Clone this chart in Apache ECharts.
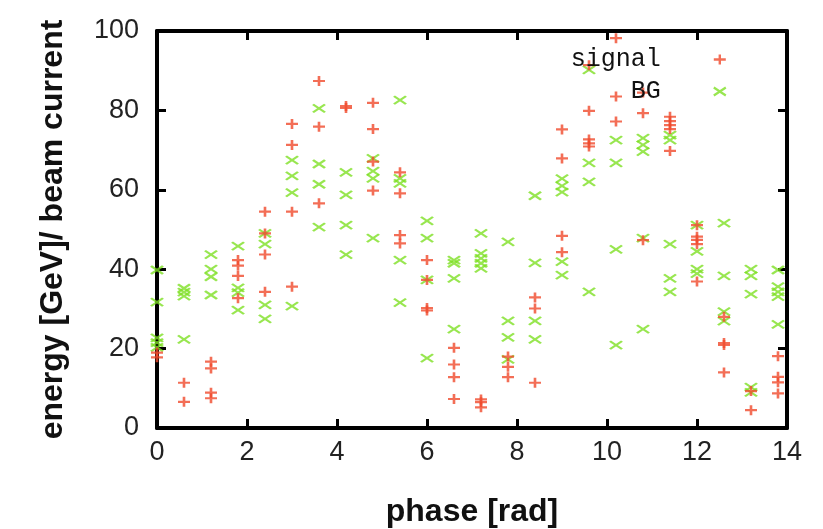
<!DOCTYPE html>
<html>
<head>
<meta charset="utf-8">
<script src="https://cdn.jsdelivr.net/npm/echarts@6/dist/echarts.min.js"></script>
<style>
  html, body { margin: 0; padding: 0; background: #ffffff; }
  #chart { width: 823px; height: 529px; }
</style>
</head>
<body>
<div id="chart"></div>
<script>
// Phase positions of the scan (rad)
const phase = [0, 0.6, 1.2, 1.8, 2.4, 3.0, 3.6, 4.2, 4.8, 5.4, 6.0, 6.6,
               7.2, 7.8, 8.4, 9.0, 9.6, 10.2, 10.8, 11.4, 12.0, 12.6, 13.2, 13.8];

// Signal energy per beam current, one list per phase position
const signalEnergy = [
  [19.0, 17.8],
  [11.4, 6.6],
  [16.7, 15.0, 8.9, 7.5],
  [42.3, 40.9, 38.3, 32.7],
  [54.5, 49.0, 43.7, 34.3],
  [76.6, 71.3, 54.5, 35.6],
  [87.4, 75.9, 56.6],
  [81.1, 80.6],
  [81.9, 75.3, 67.1, 59.8],
  [64.4, 59.1, 48.6, 46.5],
  [42.3, 37.3, 30.2, 29.6],
  [20.2, 16.0, 12.8, 7.3],
  [7.2, 6.5, 5.2],
  [18.0, 15.4, 12.8],
  [32.9, 30.1, 11.4],
  [75.2, 67.9, 48.4, 44.3],
  [91.4, 79.9, 72.7, 71.7, 70.9],
  [98.2, 83.5, 77.2],
  [84.5, 79.3, 47.3],
  [78.4, 77.3, 76.3, 75.3, 69.8],
  [51.1, 48.2, 47.4, 46.3, 36.9],
  [28.0, 21.4, 20.9, 14.0],
  [9.3, 4.5],
  [18.1, 12.9, 11.5, 8.7]
];

// Background energy per beam current, one list per phase position
const bgEnergy = [
  [39.8, 31.7, 22.7, 21.5, 20.3],
  [35.2, 34.2, 33.2, 22.3],
  [43.7, 40.0, 38.1, 33.5],
  [45.8, 35.3, 34.1, 29.7],
  [49.0, 46.3, 31.0, 27.5],
  [67.5, 63.5, 59.3, 30.7],
  [80.5, 66.5, 61.4, 50.6],
  [64.4, 58.7, 51.1, 43.7],
  [67.9, 64.7, 62.9, 47.8],
  [82.6, 62.9, 61.6, 42.3, 31.6],
  [52.2, 47.8, 37.3, 17.6],
  [42.3, 41.5, 37.7, 24.9],
  [49.0, 44.0, 42.7, 41.5, 40.2],
  [46.9, 27.0, 22.8, 17.3],
  [58.5, 41.6, 27.0, 22.3],
  [62.8, 61.0, 59.4, 41.9, 38.5],
  [90.2, 66.8, 62.0, 34.3],
  [72.5, 66.8, 45.0, 20.9],
  [73.0, 71.3, 69.6, 47.8, 24.9],
  [73.8, 72.5, 46.3, 37.7, 34.3],
  [51.1, 44.5, 40.0, 38.9],
  [51.6, 38.3, 29.3, 26.9],
  [40.0, 38.3, 33.7, 10.3, 9.0],
  [39.8, 35.6, 34.3, 33.1, 26.1]
];

// Axis ranges and tick steps
const xRange = [0, 14], xStep = 2;
const yRange = [0, 100], yStep = 20;

const RED = '#f04a2c';
const GREEN = '#7ee024';
const PLUS = 'path://M0,5L12,5M6,0L6,10';
const CROSS = 'path://M0,0L12,8M0,8L12,0';

function toPoints(lists) {
  const pts = [];
  lists.forEach((vals, i) => vals.forEach(v => pts.push([phase[i], v])));
  return pts;
}

const tickFont = { fontFamily: 'Liberation Sans', fontSize: 27, color: '#222' };
const titleFont = { fontFamily: 'Liberation Sans', fontWeight: 'bold', fontSize: 32, color: '#111' };
const frameLine = { show: true, onZero: false, lineStyle: { color: '#000', width: 4 } };
const innerTick = { show: true, inside: true, length: 9, lineStyle: { color: '#000', width: 3 } };

const chart = echarts.init(document.getElementById('chart'), null, { renderer: 'canvas' });

chart.setOption({
  animation: false,
  backgroundColor: '#ffffff',
  grid: { left: 157, right: 36, top: 31, bottom: 101, containLabel: false, outerBoundsMode: 'none' },
  xAxis: [
    {
      type: 'value', min: xRange[0], max: xRange[1], interval: xStep,
      position: 'bottom',
      name: 'phase [rad]', nameLocation: 'middle', nameGap: 68, nameTextStyle: titleFont,
      axisLine: frameLine, axisTick: innerTick,
      axisLabel: Object.assign({ margin: 11 }, tickFont),
      splitLine: { show: false }
    },
    {
      type: 'value', min: xRange[0], max: xRange[1], interval: xStep,
      position: 'top',
      axisLine: frameLine, axisTick: innerTick,
      axisLabel: { show: false }, splitLine: { show: false }
    }
  ],
  yAxis: [
    {
      type: 'value', min: yRange[0], max: yRange[1], interval: yStep,
      position: 'left',
      name: 'energy [GeV]/ beam current', nameLocation: 'middle', nameGap: 88, nameTextStyle: titleFont,
      axisLine: frameLine, axisTick: innerTick,
      axisLabel: Object.assign({ margin: 18 }, tickFont),
      splitLine: { show: false }
    },
    {
      type: 'value', min: yRange[0], max: yRange[1], interval: yStep,
      position: 'right',
      axisLine: frameLine, axisTick: innerTick,
      axisLabel: { show: false }, splitLine: { show: false }
    }
  ],
  legend: {
    orient: 'vertical',
    right: 91, top: 42,
    align: 'right',
    itemWidth: 12, itemHeight: 10, itemGap: 7,
    textStyle: { fontFamily: 'Liberation Mono', fontSize: 25, color: '#111', lineHeight: 25, padding: [0, 48, 0, 0] },
    data: [
      { name: 'signal', icon: PLUS, itemStyle: { color: 'rgba(0,0,0,0)', borderColor: RED, borderWidth: 2.4 } },
      { name: 'BG', icon: CROSS, itemStyle: { color: 'rgba(0,0,0,0)', borderColor: GREEN, borderWidth: 2.2 } }
    ]
  },
  series: [
    {
      name: 'signal', type: 'scatter',
      symbol: PLUS, symbolSize: [12, 10],
      itemStyle: { color: 'rgba(0,0,0,0)', borderColor: RED, borderWidth: 2.4 },
      data: toPoints(signalEnergy), z: 3
    },
    {
      name: 'BG', type: 'scatter',
      symbol: CROSS, symbolSize: [12, 8],
      itemStyle: { color: 'rgba(0,0,0,0)', borderColor: GREEN, borderWidth: 2.2 },
      data: toPoints(bgEnergy), z: 2
    }
  ]
});
</script>
</body>
</html>
